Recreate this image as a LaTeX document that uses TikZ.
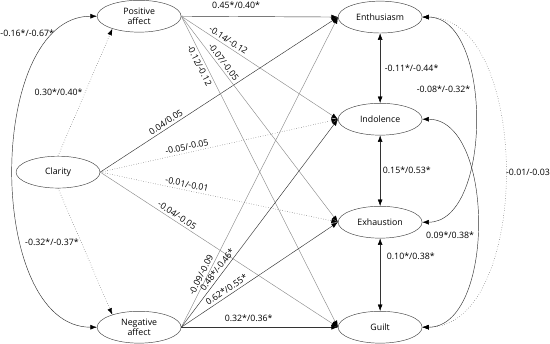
\documentclass[tikz,border=0pt]{standalone}
\usepackage{fontspec}
\setmainfont{Open Sans}
\usetikzlibrary{arrows.meta,shapes.geometric}
\tikzset{
  factor/.style={draw=black!75,ellipse,minimum width=2.95cm,minimum height=1.12cm,inner sep=0pt,align=center},
  coef/.style={inner sep=2.5pt},
  solidpath/.style={draw=black!80},
  greypath/.style={draw=black!45},
  dotpath/.style={draw=black!75,dotted}
}

\begin{document}
\begin{tikzpicture}[>={Latex[length=2.3mm,width=1.7mm,color=black]},line width=0.45pt,font=\fontsize{8.8}{10.3}\selectfont]
  \useasboundingbox (0,0) rectangle (19.33,12.06);
  \node[factor] (pa) at (4.89,11.49) {Positive\\affect};
  \node[factor] (clar) at (2.04,6.01) {Clarity};
  \node[factor] (na) at (4.89,0.56) {Negative\\affect};
  \node[factor] (enth) at (13.36,11.46) {Enthusiasm};
  \node[factor] (ind) at (13.36,7.87) {Indolence};
  \node[factor] (exh) at (13.36,4.25) {Exhaustion};
  \node[factor] (guilt) at (13.36,0.56) {Guilt};

  % clarity to affect
  \draw[->,dotpath] (clar.north) -- node[coef,left] {0.30*/0.40*} (pa.205);
  \draw[->,dotpath] (clar.south) -- node[coef,left,pos=0.43] {-0.32*/-0.37*} (na.155);
  \draw[<->,solidpath] (pa.west) to[out=180,in=180,looseness=0.92] node[coef,left,pos=0.14] {-0.16*/-0.67*} (na.west);

  % clarity to burnout
  \draw[->,solidpath] (clar.east) -- node[coef,sloped,above,pos=0.29] {0.04/0.05} (enth.west);
  \draw[->,dotpath] (clar.east) -- node[coef,sloped,above,pos=0.37] {-0.05/-0.05} (ind.west);
  \draw[->,dotpath] (clar.east) -- node[coef,sloped,above,pos=0.36] {-0.01/-0.01} (exh.west);
  \draw[->,greypath] (clar.east) -- node[coef,sloped,above,pos=0.31] {-0.04/-0.05} (guilt.west);

  % positive affect
  \draw[->,solidpath] (pa.east) -- node[coef,above=5pt,pos=0.35] {0.45*/0.40*} (enth.west);
  \draw[->,greypath] (pa.east) -- node[coef,sloped,above,pos=0.28] {-0.14/-0.12} (ind.west);
  \draw[->,greypath] (pa.east) -- node[coef,sloped,above,pos=0.24] {-0.07/-0.05} (exh.west);
  \draw[->,greypath] (pa.east) -- node[coef,sloped,below,pos=0.15] {-0.12/-0.12} (guilt.west);

  % negative affect
  \draw[->,greypath] (na.east) -- node[coef,sloped,above,pos=0.16] {-0.09/-0.09} (enth.west);
  \draw[->,solidpath] (na.east) -- node[coef,sloped,above,pos=0.26] {0.48*/-0.46*} (ind.west);
  \draw[->,solidpath] (na.east) -- node[coef,sloped,above,pos=0.31] {0.62*/0.55*} (exh.west);
  \draw[->,solidpath] (na.east) -- node[coef,above=3pt,pos=0.43] {0.32*/0.36*} (guilt.west);

  % correlations
  \draw[<->,solidpath] (enth.south) -- node[coef,right=2pt] {-0.11*/-0.44*} (ind.north);
  \draw[<->,solidpath] (ind.south) -- node[coef,right] {0.15*/0.53*} (exh.north);
  \draw[<->,solidpath] (exh.south) -- node[coef,right=4pt,pos=0.25] {0.10*/0.38*} (guilt.north);
  \draw[<->,solidpath] (enth.east) to[out=0,in=0,looseness=0.88] node[coef,left,pos=0.4] {-0.08*/-0.32*} (exh.east);
  \draw[<->,solidpath] (ind.east) to[out=0,in=0,looseness=0.9] node[coef,left,pos=0.54] {0.09*/0.38*} (guilt.east);
  \draw[<->,dotpath] (enth.east) to[out=0,in=0,looseness=0.91] node[coef,right,inner sep=1pt] {-0.01/-0.03} (guilt.east);
\end{tikzpicture}
\end{document}
